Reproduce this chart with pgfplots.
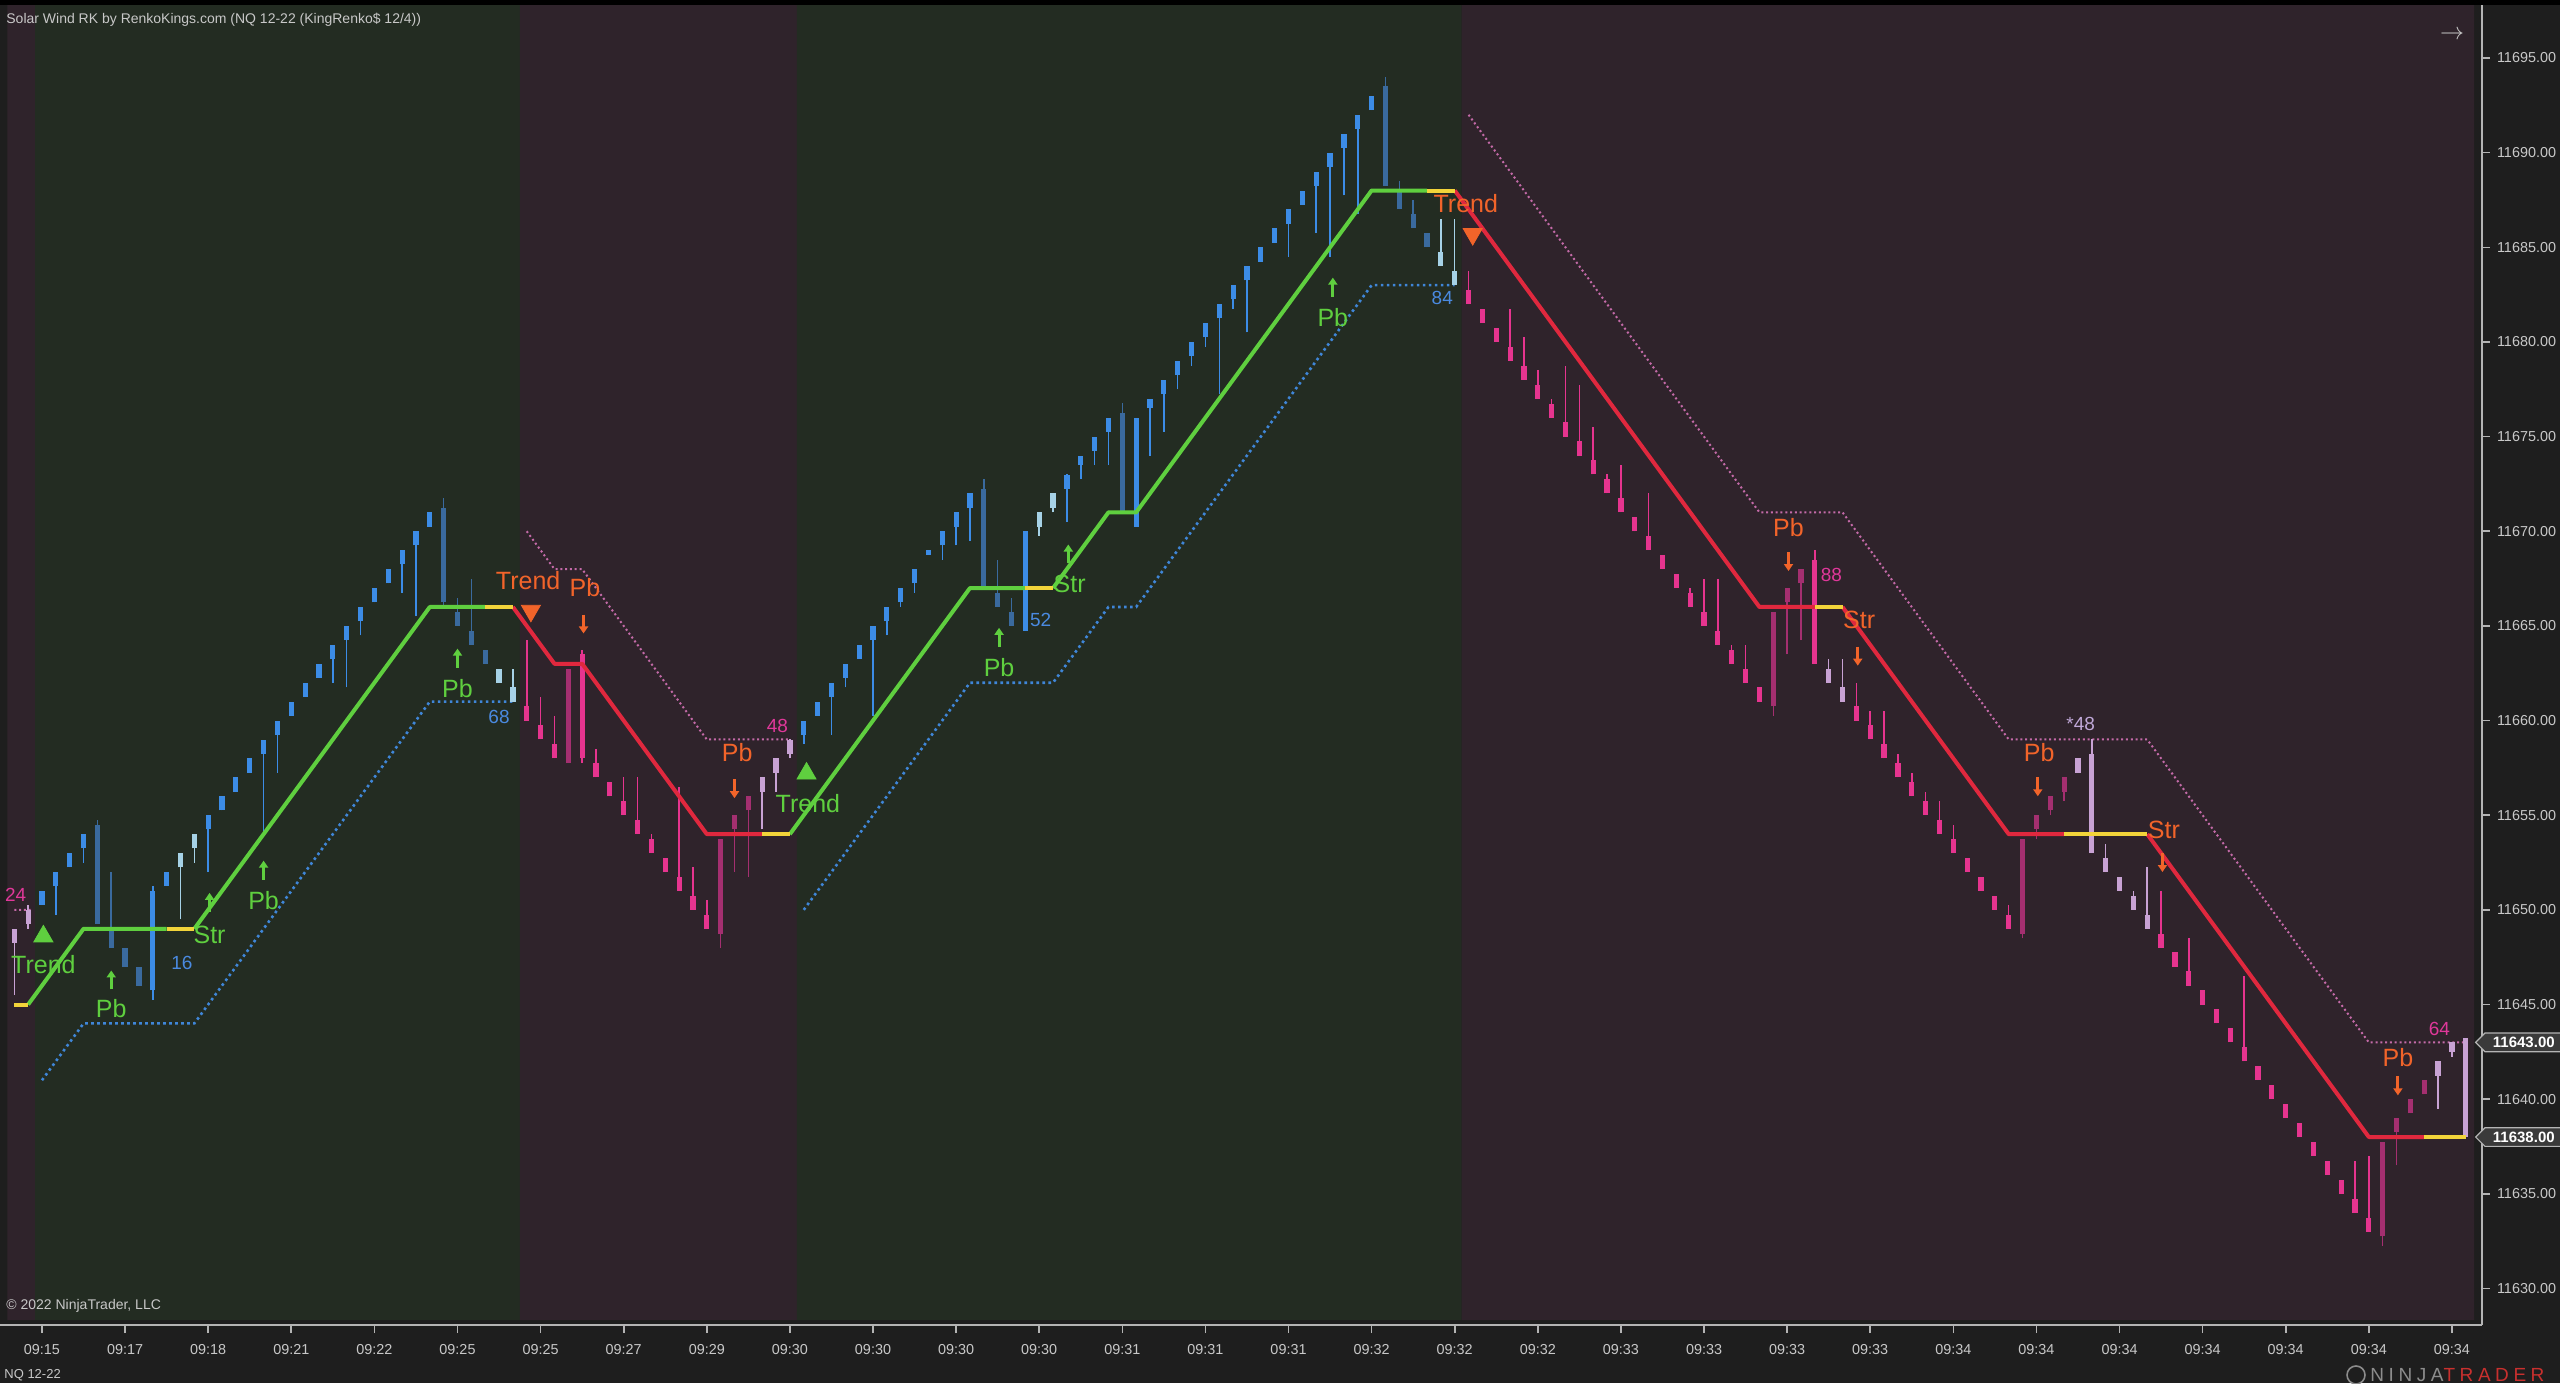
\documentclass[border=0pt]{standalone}
\usepackage{pgfplots}
\pgfplotsset{compat=1.18}
\usepackage{pgfplotstable}
\usepackage{fontspec}
\setmainfont{Liberation Sans}
\usetikzlibrary{arrows.meta,shapes.symbols}

\definecolor{bgdark}{HTML}{1E1E1E}
\definecolor{bandgreen}{HTML}{232C22}
\definecolor{bandred}{HTML}{2F232B}
\definecolor{axgrey}{HTML}{B4B4B4}
\definecolor{tickgrey}{HTML}{C8C8C8}
\definecolor{upblue}{HTML}{3C8CE6}
\definecolor{dimblue}{HTML}{3A6A9E}
\definecolor{paleblue}{HTML}{A6D2E6}
\definecolor{dnpink}{HTML}{E6348F}
\definecolor{dimpink}{HTML}{A42F70}
\definecolor{palepink}{HTML}{C8A2D4}
\definecolor{trgreen}{HTML}{5FCF3F}
\definecolor{trred}{HTML}{E0283E}
\definecolor{tryellow}{HTML}{F2D43A}
\definecolor{stopblue}{HTML}{3F86D8}
\definecolor{stoppink}{HTML}{C46AA8}
\definecolor{sigorange}{HTML}{F2642A}
\definecolor{numblue}{HTML}{4A8AE0}
\definecolor{numpink}{HTML}{E0389A}
\definecolor{numpale}{HTML}{C0A8D8}
\definecolor{ntred}{HTML}{C8302E}
\definecolor{ntgrey}{HTML}{8C8C8C}
\definecolor{markbox}{HTML}{3A3A3A}

\newcommand{\lblfont}{\fontsize{12.5}{14}\selectfont}
\newcommand{\numfont}{\fontsize{9.5}{11}\selectfont}

% renko bars: b = bar index, k = colour class
% 1 blue, 2 dim blue, 3 pale blue, 4 pink, 5 dim pink, 6 pale pink
\pgfplotstableread{
b o c h l k
0 11648.25 11649 11649 11645.5 6
1 11649.25 11650 11650.25 11649 6
2 11650.25 11651 11651 11650.25 1
3 11651.25 11652 11652 11649.75 1
4 11652.25 11653 11653 11652.25 1
5 11653.25 11654 11654 11652.5 1
6 11654.5 11649.25 11654.75 11649.25 2
7 11649 11648 11652 11648 2
8 11648 11647 11648 11647 2
9 11647 11646 11647 11646 2
10 11645.75 11651 11651.25 11645.25 1
11 11651.25 11652 11652 11651.25 1
12 11652.25 11653 11653 11649.5 3
13 11653.25 11654 11654 11652.5 3
14 11654.25 11655 11655 11652 1
15 11655.25 11656 11656 11655.25 1
16 11656.25 11657 11657 11656.25 1
17 11657.25 11658 11658 11657.25 1
18 11658.25 11659 11659 11654 1
19 11659.25 11660 11660 11657.25 1
20 11660.25 11661 11661 11660.25 1
21 11661.25 11662 11662 11661.25 1
22 11662.25 11663 11663 11662.25 1
23 11663.25 11664 11664 11662 1
24 11664.25 11665 11665 11661.75 1
25 11665.25 11666 11666 11664.5 1
26 11666.25 11667 11667 11666.25 1
27 11667.25 11668 11668 11667.25 1
28 11668.25 11669 11669 11666.75 1
29 11669.25 11670 11670 11665.5 1
30 11670.25 11671 11671 11670.25 1
31 11671.25 11666.25 11671.75 11666 2
32 11665.75 11665 11666.5 11665 2
33 11664.75 11664 11667.5 11664 2
34 11663.75 11663 11663.75 11663 2
35 11662.75 11662 11662.75 11662 3
36 11661.75 11661 11662.75 11661 3
37 11660.75 11660 11664.25 11660 4
38 11659.75 11659 11661.25 11659 4
39 11658.75 11658 11660.25 11658 4
40 11662.75 11657.75 11662.75 11657.75 5
41 11663.5 11658 11663.75 11657.75 4
42 11657.75 11657 11658.5 11657 4
43 11656.75 11656 11656.75 11656 4
44 11655.75 11655 11657 11655 4
45 11654.75 11654 11657 11654 4
46 11653.75 11653 11654 11653 4
47 11652.75 11652 11652.75 11652 4
48 11651.75 11651 11656.5 11651 4
49 11650.75 11650 11652.25 11650 4
50 11649.75 11649 11650.5 11649 4
51 11653.75 11648.75 11653.75 11648 5
52 11654.25 11655 11655 11652 5
53 11655.25 11656 11656 11651.75 5
54 11656.25 11657 11657 11654.25 6
55 11657.25 11658 11658 11656.25 6
56 11658.25 11659 11659 11658 6
57 11659.25 11660 11660 11658.75 1
58 11660.25 11661 11661 11660.25 1
59 11661.25 11662 11662 11659.25 1
60 11662.25 11663 11663 11661.75 1
61 11663.25 11664 11664 11663.25 1
62 11664.25 11665 11665 11660.25 1
63 11665.25 11666 11666 11664.5 1
64 11666.25 11667 11667 11666 1
65 11667.25 11668 11668 11666.75 1
66 11668.75 11669 11669 11668.75 1
67 11669.25 11670 11670 11668.5 1
68 11670.25 11671 11671 11669.25 1
69 11671.25 11672 11672 11669.5 1
70 11672.25 11667 11672.75 11667 2
71 11666.75 11666 11668.5 11666 2
72 11665.75 11665 11666.5 11665 2
73 11664.75 11670 11670 11664.75 1
74 11670.25 11671 11671 11669.75 3
75 11671.25 11672 11672 11671 3
76 11672.25 11673 11673 11670.5 1
77 11673.5 11674 11674 11672.75 1
78 11674.25 11675 11675 11673.5 1
79 11675.25 11676 11676 11673.5 1
80 11676.25 11671 11676.75 11671 2
81 11670.25 11676 11676 11670.25 1
82 11676.5 11677 11677 11674 1
83 11677.25 11678 11678 11675.25 1
84 11678.25 11679 11679 11677.5 1
85 11679.25 11680 11680 11678.75 1
86 11680.25 11681 11681 11679.75 1
87 11681.25 11682 11682 11677.25 1
88 11682.25 11683 11683 11681.75 1
89 11683.25 11684 11684 11680.5 1
90 11684.25 11685 11685 11684.25 1
91 11685.25 11686 11686 11685.25 1
92 11686.25 11687 11687 11684.5 1
93 11687.25 11688 11688 11687.25 1
94 11688.25 11689 11689 11685.75 1
95 11689.25 11690 11690 11684.5 1
96 11690.25 11691 11691 11687.75 1
97 11691.25 11692 11692 11686.75 1
98 11692.25 11693 11693 11692.25 1
99 11693.5 11688.25 11694 11688.25 2
100 11688 11687 11688.5 11687 2
101 11686.75 11686 11687.5 11686 2
102 11685.75 11685 11685.75 11685 2
103 11684.75 11684 11686.5 11684 3
104 11683.75 11683 11686.5 11683 3
105 11682.75 11682 11683.75 11682 4
106 11681.75 11681 11681.75 11681 4
107 11680.75 11680 11680.75 11680 4
108 11679.75 11679 11681.75 11679 4
109 11678.75 11678 11680.25 11678 4
110 11677.75 11677 11678.5 11677 4
111 11676.75 11676 11677 11676 4
112 11675.75 11675 11678.75 11675 4
113 11674.75 11674 11677.75 11674 4
114 11673.75 11673 11675.5 11673 4
115 11672.75 11672 11673 11672 4
116 11671.75 11671 11673.5 11671 4
117 11670.75 11670 11670.75 11670 4
118 11669.75 11669 11672 11669 4
119 11668.75 11668 11668.75 11668 4
120 11667.75 11667 11667.75 11667 4
121 11666.75 11666 11667 11666 4
122 11665.75 11665 11667.5 11665 4
123 11664.75 11664 11667.5 11664 4
124 11663.75 11663 11664 11663 4
125 11662.75 11662 11664 11662 4
126 11661.75 11661 11661.75 11661 4
127 11665.75 11660.75 11665.75 11660.25 5
128 11666.25 11667 11667 11663.5 5
129 11667.25 11668 11668 11664.25 5
130 11668.5 11663 11669 11663 4
131 11662.75 11662 11663.25 11662 6
132 11661.75 11661 11663.25 11661 6
133 11660.75 11660 11662 11660 4
134 11659.75 11659 11660.5 11659 4
135 11658.75 11658 11660.5 11658 4
136 11657.75 11657 11658.25 11657 4
137 11656.75 11656 11657.25 11656 4
138 11655.75 11655 11656.25 11655 4
139 11654.75 11654 11655.75 11654 4
140 11653.75 11653 11654.5 11653 4
141 11652.75 11652 11652.75 11652 4
142 11651.75 11651 11651.75 11651 4
143 11650.75 11650 11650.75 11650 4
144 11649.75 11649 11650.25 11649 4
145 11653.75 11648.75 11653.75 11648.5 5
146 11654.25 11655 11655 11653.75 5
147 11655.25 11656 11656 11655 5
148 11656.25 11657 11657 11655.75 5
149 11657.25 11658 11658 11657.25 6
150 11653 11658.25 11659 11653 6
151 11652.75 11652 11653.5 11652 6
152 11651.75 11651 11651.75 11651 6
153 11650.75 11650 11651 11650 6
154 11649.75 11649 11652.25 11649 6
155 11648.75 11648 11651 11648 4
156 11647.75 11647 11647.75 11647 4
157 11646.75 11646 11648.5 11646 4
158 11645.75 11645 11645.75 11645 4
159 11644.75 11644 11644.75 11644 4
160 11643.75 11643 11643.75 11643 4
161 11642.75 11642 11646.5 11642 4
162 11641.75 11641 11641.75 11641 4
163 11640.75 11640 11640.75 11640 4
164 11639.75 11639 11639.75 11639 4
165 11638.75 11638 11638.75 11638 4
166 11637.75 11637 11637.75 11637 4
167 11636.75 11636 11636.75 11636 4
168 11635.75 11635 11635.75 11635 4
169 11634.75 11634 11636.75 11634 4
170 11633.75 11633 11637 11633 4
171 11637.75 11632.75 11637.75 11632.25 5
172 11638.25 11639 11639 11636.5 5
173 11639.25 11640 11640 11639.25 5
174 11640.25 11641 11641 11640.25 5
175 11641.25 11642 11642 11639.5 6
176 11642.5 11643 11643 11642.25 6
177 11638 11643.25 11643.25 11638 6
}\bars

\begin{document}
\begin{tikzpicture}
\fill[bgdark] (0,-29pt) rectangle (1280pt,662.5pt);
\fill[black] (0,660pt) rectangle (1280pt,662.5pt);

\begin{axis}[
  scale only axis, width=1241pt, height=660pt,
  xmin=-1.032, xmax=178.17, ymin=11628.07, ymax=11697.8,
  clip=false,
  axis x line*=bottom, axis y line*=right,
  axis line style={-, draw=axgrey, line width=1pt},
  tick align=outside, major tick length=4pt,
  tick style={draw=axgrey, line width=0.8pt},
  xtick={2,8,...,176},
  xticklabels={09:15,09:17,09:18,09:21,09:22,09:25,09:25,09:27,09:29,
    09:30,09:30,09:30,09:30,09:31,09:31,09:31,09:32,09:32,09:32,
    09:33,09:33,09:33,09:33,09:34,09:34,09:34,09:34,09:34,09:34,09:34},
  ytick={11630,11635,...,11695},
  yticklabels={11630.00,11635.00,11640.00,11645.00,11650.00,11655.00,11660.00,
    11665.00,11670.00,11675.00,11680.00,11685.00,11690.00,11695.00},
  tick label style={font=\fontsize{7.2}{8}\selectfont, text=tickgrey},
  xticklabel style={yshift=-2pt},
  /pgf/number format/assume math mode=true,
  colormap={candles}{color(0cm)=(upblue) color(1cm)=(dimblue) color(2cm)=(paleblue)
    color(3cm)=(dnpink) color(4cm)=(dimpink) color(5cm)=(palepink)},
  point meta min=1, point meta max=6,
]
% trend background bands
\addplot[fill=bandred, draw=none] coordinates {(-0.5,11628.33) (1.5,11628.33) (1.5,11697.8) (-0.5,11697.8) (-0.5,11628.33)};
\addplot[fill=bandgreen, draw=none] coordinates {(1.5,11628.33) (36.5,11628.33) (36.5,11697.8) (1.5,11697.8) (1.5,11628.33)};
\addplot[fill=bandred, draw=none] coordinates {(36.5,11628.33) (56.5,11628.33) (56.5,11697.8) (36.5,11697.8) (36.5,11628.33)};
\addplot[fill=bandgreen, draw=none] coordinates {(56.5,11628.33) (104.5,11628.33) (104.5,11697.8) (56.5,11697.8) (56.5,11628.33)};
\addplot[fill=bandred, draw=none] coordinates {(104.5,11628.33) (177.6,11628.33) (177.6,11697.8) (104.5,11697.8) (104.5,11628.33)};

% stop lines
\addplot[stopblue, line width=1.3pt, dash pattern=on 1.3pt off 1.7pt, unbounded coords=jump]
  coordinates {(2,11641) (5,11644) (13,11644) (30,11661) (36,11661) (36,nan)
  (57,11650) (69,11662) (75,11662) (79,11666) (81,11666) (98,11683) (104,11683)};
\addplot[stoppink, line width=1pt, dash pattern=on 1pt off 1.4pt, unbounded coords=jump]
  coordinates {(0,11650) (1.2,11650) (1.2,nan)
  (37,11670) (39,11668) (41,11668) (50,11659) (56,11659) (56,nan)
  (105,11692) (126,11671) (132,11671) (144,11659) (154,11659) (170,11643) (177,11643)};

% candles: wicks then bodies, coloured by class through the colormap
\addplot[line width=0.75pt, point meta=\thisrow{k},
  quiver={u=0, v={\thisrow{h}-\thisrow{l}}, colored=mapped color}]
  table[x=b, y=l] {\bars};
\addplot[line width=2.6pt, point meta=\thisrow{k},
  quiver={u=0, v={abs(\thisrow{c}-\thisrow{o})}, colored=mapped color}]
  table[x=b, y expr={min(\thisrow{o},\thisrow{c})}] {\bars};

% trend line
\addplot[trgreen, line width=2pt, line join=round, unbounded coords=jump]
  coordinates {(1,11645) (5,11649) (11,11649) (11,nan) (13,11649) (30,11666) (34,11666) (34,nan)
  (56,11654) (69,11667) (73,11667) (73,nan) (75,11667) (79,11671) (81,11671) (98,11688) (102,11688)};
\addplot[trred, line width=2pt, line join=round, unbounded coords=jump]
  coordinates {(36,11666) (39,11663) (41,11663) (50,11654) (54,11654) (54,nan)
  (104,11688) (126,11666) (130,11666) (130,nan) (132,11666) (144,11654) (148,11654) (148,nan)
  (154,11654) (170,11638) (174,11638)};
\addplot[tryellow, line width=2pt, unbounded coords=jump]
  coordinates {(0,11645) (1,11645) (1,nan) (11,11649) (13,11649) (13,nan) (34,11666) (36,11666) (36,nan)
  (54,11654) (56,11654) (56,nan) (73,11667) (75,11667) (75,nan) (102,11688) (104,11688) (104,nan)
  (130,11666) (132,11666) (132,nan) (148,11654) (154,11654) (154,nan) (174,11638) (177,11638)};

% signal arrows and triangles
\addplot[trgreen, line width=1.5pt, -{Triangle[width=4.5pt,length=3.5pt]}, quiver={u=0,v=\thisrow{v}}]
  table[x=x, y=y] {
x y v
7 11645.8 1.0
14.1 11649.9 1.0
18 11651.6 1.0
32 11662.8 1.0
71.1 11663.9 1.0
76.1 11668.3 1.0
95.2 11682.4 1.0
};
\addplot[sigorange, line width=1.5pt, -{Triangle[width=4.5pt,length=3.5pt]}, quiver={u=0,v=\thisrow{v}}]
  table[x=x, y=y] {
x y v
41.1 11665.6 -1.0
52 11656.9 -1.0
128.1 11668.9 -1.0
133.1 11663.9 -1.0
146.1 11657 -1.0
155.1 11653 -1.0
172.1 11641.2 -1.0
};
\addplot[only marks, mark=triangle*, mark size=5.5pt, trgreen, mark options={fill=trgreen, draw=trgreen}]
  coordinates {(2.1,11648.6) (57.2,11657.2)};
\addplot[only marks, mark=triangle*, mark size=5.5pt, sigorange, mark options={rotate=180, fill=sigorange, draw=sigorange}]
  coordinates {(37.3,11665.8) (105.3,11685.7)};

% labels
\begin{scope}[every node/.style={font=\lblfont, text=trgreen, inner sep=0pt}]
\node at (axis cs:2.1,11647.1) {Trend};
\node at (axis cs:7,11644.8) {Pb};
\node at (axis cs:14.1,11648.7) {Str};
\node at (axis cs:18,11650.5) {Pb};
\node at (axis cs:32,11661.7) {Pb};
\node at (axis cs:57.3,11655.6) {Trend};
\node at (axis cs:71.1,11662.8) {Pb};
\node at (axis cs:76.2,11667.2) {Str};
\node at (axis cs:95.2,11681.3) {Pb};
\end{scope}
\begin{scope}[every node/.style={font=\lblfont, text=sigorange, inner sep=0pt}]
\node at (axis cs:37.1,11667.4) {Trend};
\node at (axis cs:41.2,11667) {Pb};
\node at (axis cs:52.2,11658.3) {Pb};
\node at (axis cs:104.8,11687.3) {Trend};
\node at (axis cs:128.1,11670.2) {Pb};
\node at (axis cs:133.2,11665.3) {Str};
\node at (axis cs:146.2,11658.3) {Pb};
\node at (axis cs:155.2,11654.2) {Str};
\node at (axis cs:172.1,11642.2) {Pb};
\end{scope}
\begin{scope}[every node/.style={font=\numfont, inner sep=0pt}]
\node[text=numblue] at (axis cs:12.1,11647.2) {16};
\node[text=numblue] at (axis cs:35,11660.2) {68};
\node[text=numblue] at (axis cs:74.1,11665.3) {52};
\node[text=numblue] at (axis cs:103.1,11682.3) {84};
\node[text=numpink] at (axis cs:0.1,11650.8) {24};
\node[text=numpink] at (axis cs:55.1,11659.7) {48};
\node[text=numpink] at (axis cs:131.2,11667.7) {88};
\node[text=numpink] at (axis cs:175.1,11643.7) {64};
\node[text=numpale] at (axis cs:149.2,11659.8) {*48};
\end{scope}

% last price markers on the price scale
\node[signal, signal to=west, fill=markbox, draw=axgrey, line width=0.6pt, text=white,
  font=\bfseries\fontsize{7.5}{8}\selectfont, inner xsep=4pt, inner ysep=2pt, anchor=west]
  at (axis cs:177.65,11643) {11643.00};
\node[signal, signal to=west, fill=markbox, draw=axgrey, line width=0.6pt, text=white,
  font=\bfseries\fontsize{7.5}{8}\selectfont, inner xsep=4pt, inner ysep=2pt, anchor=west]
  at (axis cs:177.65,11638) {11638.00};
\end{axis}

\node[anchor=west, text=tickgrey, font=\fontsize{7}{8}\selectfont, inner sep=0pt]
  at (3pt,652.5pt) {Solar Wind RK by RenkoKings.com (NQ 12-22 (KingRenko\$ 12/4))};
\node[anchor=west, text=tickgrey, font=\fontsize{7}{8}\selectfont, inner sep=0pt]
  at (3pt,9.5pt) {© 2022 NinjaTrader, LLC};
\node[anchor=west, text=tickgrey, font=\fontsize{6.5}{8}\selectfont, inner sep=0pt]
  at (2pt,-25pt) {NQ 12-22};
\node[text=tickgrey, font=\fontsize{12}{12}\selectfont, inner sep=0pt]
  at (1226pt,645pt) {$\rightarrow$};
\draw[ntgrey, line width=0.8pt] (1178pt,-25pt) circle (4.5pt);
\node[anchor=west, font=\fontsize{9.5}{10}\selectfont, inner sep=0pt]
  at (1185pt,-25pt) {\addfontfeatures{LetterSpace=24}\textcolor{ntgrey}{NINJA}\textcolor{ntred}{TRADER}};

\pgfresetboundingbox
\path[use as bounding box] (0,-29pt) rectangle (1280pt,662.5pt);
\end{tikzpicture}
\end{document}
